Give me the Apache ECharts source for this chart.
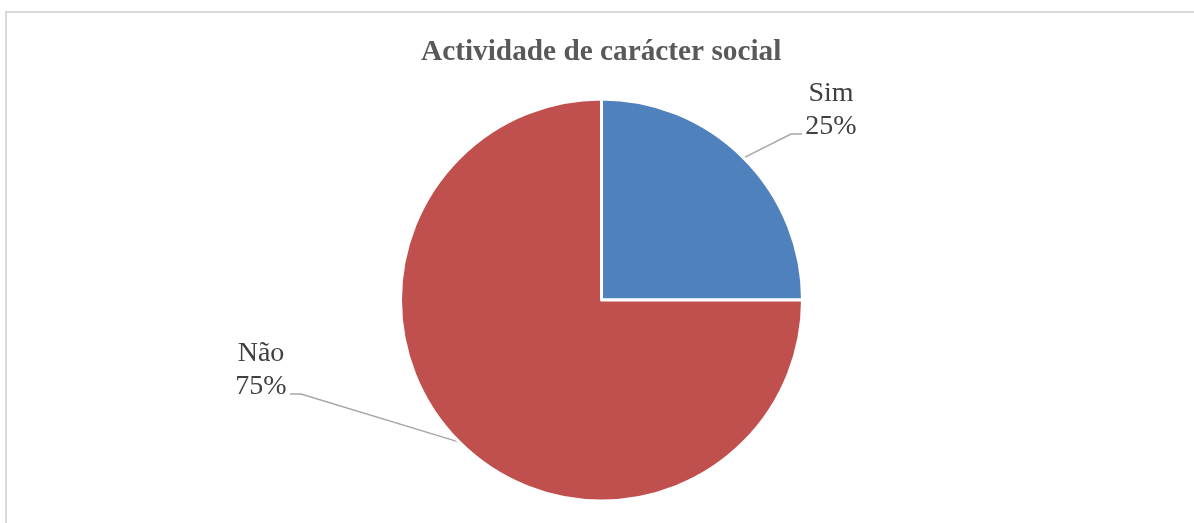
<!DOCTYPE html>
<html>
<head>
<meta charset="utf-8">
<script src="https://cdn.jsdelivr.net/npm/echarts@6/dist/echarts.min.js"></script>
<style>
html,body{margin:0;padding:0;background:#fff;}
#chartContainer{width:1194px;height:523px;}
</style>
</head>
<body>
<div id="chartContainer"></div>
<script>
var chartTitle = 'Actividade de carácter social';
var categories = ['Sim', 'Não'];
var values = [25, 75];
var colors = ['#4F81BD', '#C0504D'];

// label box centres (Excel puts the text beside the leader line end)
var labelSpots = [[831, 134], [261, 394]];

function showPie(){
	var dom = document.getElementById("chartContainer");
	var myChart = echarts.init(dom);
	var pieData = categories.map(function(name, i){
		return {name: name, value: values[i], itemStyle: {color: colors[i]}};
	});
	var option = {
		backgroundColor: '#fff',
		animation: false,
		title: {
			text: chartTitle,
			left: 416,
			top: 33,
			textStyle: {
				fontFamily: 'Liberation Serif, Times New Roman, serif',
				fontSize: 29.3,
				fontWeight: 'bold',
				color: '#595959'
			}
		},
		graphic: [{
			type: 'rect',
			shape: {x: 6, y: 12, width: 1200, height: 600},
			style: {fill: 'none', stroke: '#D9D9D9', lineWidth: 2},
			silent: true
		}],
		series: [{
			type: 'pie',
			center: [601.5, 300],
			radius: 201,
			startAngle: 90,
			clockwise: true,
			data: pieData,
			itemStyle: {borderColor: '#fff', borderWidth: 3},
			label: {
				show: true,
				position: 'outside',
				formatter: '{t|{b}}\n{t|{d}%}',
				padding: [0, 0, 48, 0],
				rich: {
					t: {
						width: 60,
						align: 'center',
						fontFamily: 'Liberation Serif, Times New Roman, serif',
						fontSize: 28,
						lineHeight: 33,
						color: '#404040'
					}
				}
			},
			labelLine: {
				show: true,
				length: 20,
				length2: 10,
				lineStyle: {color: '#A6A6A6', width: 1.5}
			},
			labelLayout: function(params){
				var spot = labelSpots[params.dataIndex];
				var pts = params.labelLinePoints;
				var anchor = pts ? pts[0] : spot;
				var w = params.labelRect.width;
				var right = anchor[0] > 601;
				var endX = right ? spot[0] - w / 2 + 1 : spot[0] + w / 2 - 1;
				var elbowX = right ? endX - 11 : endX + 11;
				return {
					x: spot[0],
					y: spot[1],
					align: 'center',
					verticalAlign: 'middle',
					labelLinePoints: [anchor, [elbowX, spot[1]], [endX, spot[1]]]
				};
			}
		}]
	};
	myChart.setOption(option, true);
}

showPie();
</script>
</body>
</html>
